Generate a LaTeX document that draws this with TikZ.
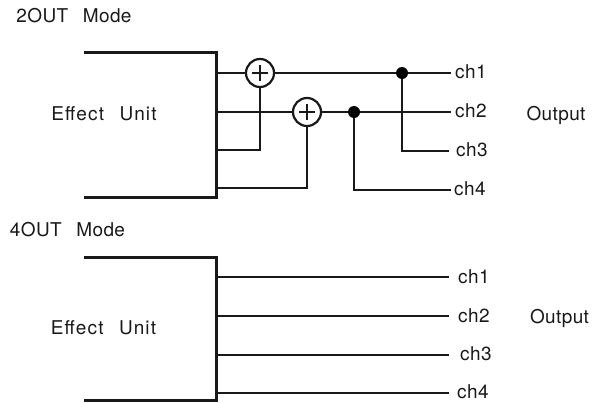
\documentclass[tikz,border=0pt]{standalone}
\usepackage{fontspec}
\setmainfont[LetterSpace=2]{TeX Gyre Heros}
\newcommand{\gapw}{\hspace{9pt}}
\newcommand{\effectunit}{\addfontfeature{LetterSpace=6}Effect\gapw\ Unit}
\tikzset{
  unitline/.style={line width=3pt,black!90},
  wire/.style={line width=2pt,black!90},
  crosswire/.style={line width=1.6pt,black!90},
  lbl/.style={inner sep=0pt,anchor=base,font=\fontsize{19}{22}\selectfont,text=black!90},
  chlbl/.style={lbl,anchor=base west,inner ysep=0pt},
  adder/.style={circle,draw=black!90,line width=2.2pt,minimum size=28pt,inner sep=0pt,fill=white},
  joint/.style={circle,fill=black,minimum size=12pt,inner sep=0pt}
}
\begin{document}
\begin{tikzpicture}[x=1pt,y=-1pt]
\useasboundingbox (0,0) rectangle (593,402);
\node[lbl] (t1) at (74,22) {2OUT\gapw\ Mode};
\node[lbl] (t2) at (67.5,236.5) {4OUT\gapw\ Mode};
\node[lbl] (e1) at (104,120) {\effectunit};
\node[lbl] (e2) at (103.5,334) {\effectunit};
\node[lbl] (o1) at (556,120) {Output};
\node[lbl] (o2) at (559.5,323) {Output};
% top unit
\coordinate (a1) at (84,52); \coordinate (a2) at (216,52);
\coordinate (a3) at (216,197); \coordinate (a4) at (84,197);
\draw[unitline] (a1) -- (a2) -- (a3) -- (a4);
\node[chlbl,inner xsep=4pt] (c1) at (451,78) {ch1};
\node[chlbl,inner xsep=4pt] (c2) at (451,117) {ch2};
\node[chlbl,inner xsep=7pt] (c3) at (449,156) {ch3};
\node[chlbl,inner xsep=3pt] (c4) at (451,195) {ch4};
\coordinate (s1) at (216,73); \coordinate (s2) at (216,112);
\coordinate (s3) at (216,150); \coordinate (s4) at (216,188);
\node[adder] (p1) at (260,73) {};
\node[adder] (p2) at (307,112) {};
\draw[crosswire] ([xshift=-8pt]p1.center)--([xshift=8pt]p1.center) ([yshift=-8pt]p1.center)--([yshift=8pt]p1.center);
\draw[crosswire] ([xshift=-8pt]p2.center)--([xshift=8pt]p2.center) ([yshift=-8pt]p2.center)--([yshift=8pt]p2.center);
\node[joint] (j1) at (402,73) {};
\node[joint] (j2) at (354,112) {};
\draw[wire] (s1) -- (p1.west) (p1.east) -- (j1) -- (j1 -| c1.west);
\draw[wire] (s3) -| (p1.south);
\draw[wire] (s2) -- (p2.west) (p2.east) -- (j2) -- (j2 -| c2.west);
\draw[wire] (s4) -| (p2.south);
\coordinate (k3) at (402,151); \coordinate (k4) at (354,190);
\draw[wire] (j1) -- (k3) -- (k3 -| c3.west);
\draw[wire] (j2) -- (k4) -- (k4 -| c4.west);
% bottom unit
\coordinate (b1) at (84,257); \coordinate (b2) at (216,257);
\coordinate (b3) at (216,400); \coordinate (b4) at (84,400);
\draw[unitline] (b1) -- (b2) -- (b3) -- (b4);
\node[chlbl,inner xsep=9pt] (d1) at (449,283) {ch1};
\node[chlbl,inner xsep=9pt] (d2) at (449,322) {ch2};
\node[chlbl,inner xsep=11pt] (d3) at (449,360) {ch3};
\node[chlbl,inner xsep=8pt] (d4) at (449,398) {ch4};
\coordinate (u1) at (216,277); \coordinate (u2) at (216,316);
\coordinate (u3) at (216,355); \coordinate (u4) at (216,393);
\draw[wire] (u1) -- (u1 -| d1.west);
\draw[wire] (u2) -- (u2 -| d2.west);
\draw[wire] (u3) -- (u3 -| d3.west);
\draw[wire] (u4) -- (u4 -| d4.west);
\end{tikzpicture}
\end{document}
